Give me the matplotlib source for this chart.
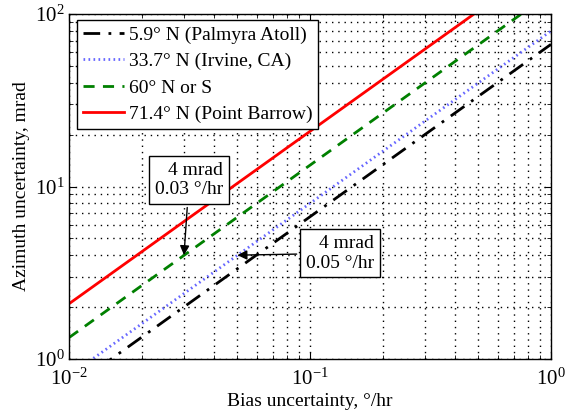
import matplotlib
matplotlib.use('Agg')
import matplotlib.pyplot as plt

plt.rcParams['font.family'] = ['Liberation Serif', 'DejaVu Serif']
plt.rcParams['mathtext.fontset'] = 'custom'
plt.rcParams['mathtext.rm'] = 'Liberation Serif'
plt.rcParams['mathtext.it'] = 'Liberation Serif:italic'

# data (straight lines on log-log axes, end points)
bias = [0.01, 1.0]
palmyra = [0.668, 66.8]
irvine = [0.799, 79.9]
lat60 = [1.33, 133.0]
barrow = [2.09, 209.0]

labels = ['5.9° N (Palmyra Atoll)', '33.7° N (Irvine, CA)',
          '60° N or S', '71.4° N (Point Barrow)']

fig = plt.figure(figsize=(5.68, 4.15), dpi=100)
ax = fig.add_axes([0.1215, 0.135, 0.8486, 0.831])

ax.loglog(bias, palmyra, color='black', linestyle=(0, (6, 3, 1, 3)), linewidth=2, label=labels[0])
ax.loglog(bias, irvine, color=(0.4, 0.4, 1.0), linestyle=(0, (0.6, 1.2)), linewidth=2, label=labels[1])
ax.loglog(bias, lat60, color=(0, 0.5, 0), linestyle=(0, (4, 3)), linewidth=2, label=labels[2])
ax.loglog(bias, barrow, color='red', linestyle='-', linewidth=2, label=labels[3])

ax.set_xlim(1e-2, 1)
ax.set_ylim(1, 100)
ax.grid(True, which='both', color='black', linestyle=(0, (1, 3.5)), linewidth=1)
ax.tick_params(which='both', direction='in', top=True, right=True, labelsize=15)
ax.tick_params(axis='x', which='major', pad=7)
ax.tick_params(axis='y', which='major', pad=3)
ax.tick_params(which='major', length=5)
ax.tick_params(which='minor', length=3)
for s in ax.spines.values():
    s.set_linewidth(1)

ax.set_xlabel('Bias uncertainty, °/hr', fontsize=14, labelpad=2)
ax.set_ylabel('Azimuth uncertainty, mrad', fontsize=14, labelpad=4)

leg = ax.legend(loc='upper left', bbox_to_anchor=(0.0166, 0.982), borderaxespad=0,
                fontsize=14, fancybox=False, framealpha=1, edgecolor='black',
                handlelength=2.1, handletextpad=0.25, labelspacing=0.45,
                borderpad=0.3)
leg.get_frame().set_linewidth(1)

box = dict(boxstyle='square,pad=0.3', facecolor='white', edgecolor='black', linewidth=1)
arrow = dict(arrowstyle='-|>', color='black', linewidth=1, mutation_scale=14, shrinkB=0)

ax.annotate('4 mrad\n0.03 °/hr', xy=(0.03, 4), xytext=(0.0315, 10.9),
            ha='center', va='center', multialignment='right', fontsize=14,
            bbox=box, arrowprops=arrow)
ax.annotate('4 mrad\n0.05 °/hr', xy=(0.05, 4), xytext=(0.133, 4.1),
            ha='center', va='center', multialignment='right', fontsize=14,
            bbox=box, arrowprops=arrow)

fig.savefig('out.png', dpi=100)
